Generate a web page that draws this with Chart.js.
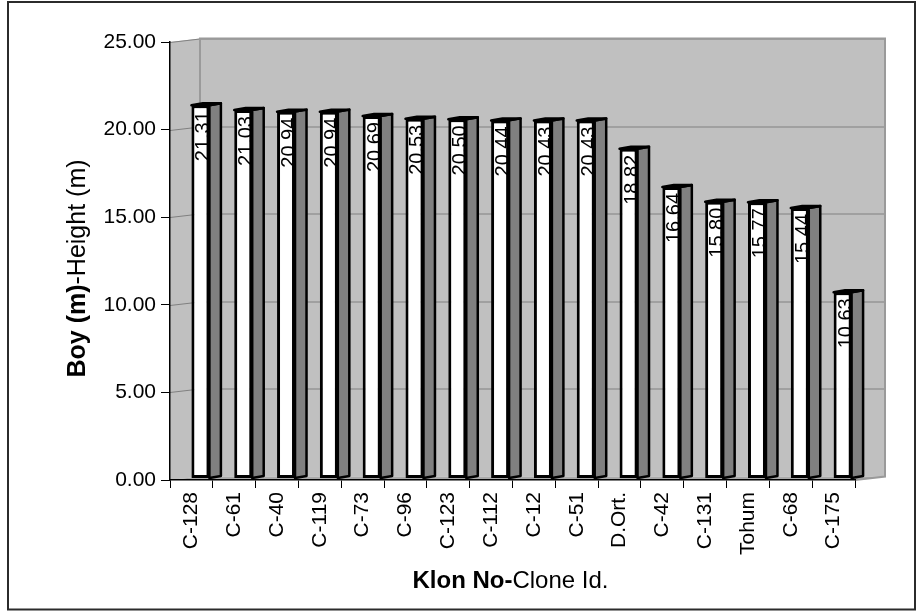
<!DOCTYPE html>
<html>
<head>
<meta charset="utf-8">
<script src="https://cdn.jsdelivr.net/npm/chart.js@4.4.1/dist/chart.umd.min.js"></script>
<style>
  html, body { margin: 0; padding: 0; background: #fff; }
  canvas { display: block; }
</style>
</head>
<body>
<canvas id="c" width="916" height="611"></canvas>
<script>
// Clone ids along the x axis
const categories = ['C-128', 'C-61', 'C-40', 'C-119', 'C-73', 'C-96', 'C-123', 'C-112',
  'C-12', 'C-51', 'D.Ort.', 'C-42', 'C-131', 'Tohum', 'C-68', 'C-175'];
// Mean height per clone (m)
const heights = [21.31, 21.03, 20.94, 20.94, 20.69, 20.53, 20.50, 20.44,
  20.43, 20.43, 18.82, 16.64, 15.80, 15.77, 15.44, 10.63];
// Value axis ticks
const yTicks = [0, 5, 10, 15, 20, 25];

const FONT = "'Liberation Sans', Arial, Helvetica, sans-serif";

// Oblique 3D geometry
const WALL_DX = 30, WALL_DY = -3.5;   // front plane -> back wall
const BAR_DX = 9, BAR_DY = -1.5;      // front plane -> bar front faces
const BAR_DEPTH_X = 11.5, BAR_DEPTH_Y = -2;

function poly(ctx, pts) {
  ctx.beginPath();
  ctx.moveTo(pts[0][0], pts[0][1]);
  for (let i = 1; i < pts.length; i++) ctx.lineTo(pts[i][0], pts[i][1]);
  ctx.closePath();
}

const scene3d = {
  id: 'scene3d',
  beforeDraw(chart) {
    const { ctx, chartArea: a, scales: { y } } = chart;
    ctx.save();
    ctx.fillStyle = '#fff';
    ctx.fillRect(0, 0, chart.width, chart.height);

    // outer frame
    ctx.strokeStyle = '#2b2b2b';
    ctx.lineWidth = 2;
    ctx.strokeRect(8, 2, 907, 607.5);

    const top = y.getPixelForValue(y.max);
    const bot = y.getPixelForValue(y.min);

    // side wall and back wall
    ctx.fillStyle = '#c0c0c0';
    poly(ctx, [[a.left, top], [a.left + WALL_DX, top + WALL_DY],
      [a.left + WALL_DX, bot + WALL_DY], [a.left, bot]]);
    ctx.fill();
    ctx.fillRect(a.left + WALL_DX, top + WALL_DY, a.right - a.left, bot - top);

    // floor
    ctx.fillStyle = '#a9a9a9';
    poly(ctx, [[a.left, bot], [a.right, bot],
      [a.right + WALL_DX, bot + WALL_DY], [a.left + WALL_DX, bot + WALL_DY]]);
    ctx.fill();

    // gridlines across side and back walls
    ctx.strokeStyle = '#808080';
    ctx.lineWidth = 1;
    y.ticks.forEach(t => {
      if (t.value === y.min) return;
      const py = Math.round(y.getPixelForValue(t.value)) + 0.5;
      ctx.beginPath();
      ctx.moveTo(a.left, py);
      ctx.lineTo(a.left + WALL_DX, py + WALL_DY);
      ctx.lineTo(a.right + WALL_DX, py + WALL_DY);
      ctx.stroke();
    });

    // wall edges
    ctx.strokeStyle = '#9a9a9a';
    ctx.lineWidth = 2;
    ctx.beginPath();
    ctx.moveTo(a.left + WALL_DX, bot + WALL_DY);
    ctx.lineTo(a.left + WALL_DX, top + WALL_DY);
    ctx.lineTo(a.right + WALL_DX, top + WALL_DY);
    ctx.lineTo(a.right + WALL_DX, bot + WALL_DY);
    ctx.lineTo(a.right, bot);
    ctx.stroke();
    ctx.restore();
  },
  beforeDatasetDraw(chart, args) {
    const ctx = chart.ctx;
    ctx.save();
    ctx.translate(BAR_DX, BAR_DY);
    ctx.lineWidth = 2.5;
    ctx.strokeStyle = '#000';
    ctx.lineJoin = 'round';
    args.meta.data.forEach(el => {
      const { x, y, base, width } = el.getProps(['x', 'y', 'base', 'width'], true);
      const l = x - width / 2, r = x + width / 2;
      // side face
      ctx.fillStyle = '#808080';
      poly(ctx, [[r, y], [r + BAR_DEPTH_X, y + BAR_DEPTH_Y],
        [r + BAR_DEPTH_X, base + BAR_DEPTH_Y], [r, base]]);
      ctx.fill();
      ctx.stroke();
      // top face
      ctx.fillStyle = '#ffffff';
      poly(ctx, [[l, y], [l + BAR_DEPTH_X, y + BAR_DEPTH_Y],
        [r + BAR_DEPTH_X, y + BAR_DEPTH_Y], [r, y]]);
      ctx.fill();
      ctx.stroke();
    });
  },
  afterDatasetDraw(chart) {
    chart.ctx.restore();
  },
  afterDatasetsDraw(chart) {
    const ctx = chart.ctx;
    const meta = chart.getDatasetMeta(0);
    const data = chart.data.datasets[0].data;
    ctx.save();
    ctx.fillStyle = '#000';
    ctx.font = '20px ' + FONT;
    ctx.textAlign = 'right';
    ctx.textBaseline = 'alphabetic';
    meta.data.forEach((el, i) => {
      const { x, y } = el.getProps(['x', 'y'], true);
      ctx.save();
      ctx.translate(x + BAR_DX + 9, y + BAR_DY + 6);
      ctx.rotate(-Math.PI / 2);
      ctx.fillText(data[i].toFixed(2), 0, 0);
      ctx.restore();
    });
    ctx.restore();
  },
  afterDraw(chart) {
    const ctx = chart.ctx;
    ctx.save();
    ctx.fillStyle = '#000';
    ctx.textBaseline = 'alphabetic';
    ctx.textAlign = 'left';

    // value axis title
    const yBold = 'Boy (m)', yReg = '-Height (m)';
    ctx.font = 'bold 25px ' + FONT;
    const wb = ctx.measureText(yBold).width;
    ctx.font = '25px ' + FONT;
    const wr = ctx.measureText(yReg).width;
    ctx.save();
    ctx.translate(85, 268.5);
    ctx.rotate(-Math.PI / 2);
    const s = -(wb + wr) / 2;
    ctx.font = 'bold 25px ' + FONT;
    ctx.fillText(yBold, s, 0);
    ctx.font = '25px ' + FONT;
    ctx.fillText(yReg, s + wb, 0);
    ctx.restore();

    // category axis title
    const xBold = 'Klon No-', xReg = 'Clone Id.';
    ctx.font = 'bold 24px ' + FONT;
    const xb = ctx.measureText(xBold).width;
    ctx.font = '24px ' + FONT;
    const xr = ctx.measureText(xReg).width;
    const sx = 510.5 - (xb + xr) / 2;
    ctx.font = 'bold 24px ' + FONT;
    ctx.fillText(xBold, sx, 588);
    ctx.font = '24px ' + FONT;
    ctx.fillText(xReg, sx + xb, 588);
    ctx.restore();
  }
};

new Chart(document.getElementById('c'), {
  type: 'bar',
  data: {
    labels: categories,
    datasets: [{
      data: heights,
      backgroundColor: '#ffffff',
      borderColor: '#000000',
      borderWidth: 3,
      borderSkipped: false,
      categoryPercentage: 1,
      barPercentage: 0.42,
      clip: false
    }]
  },
  options: {
    responsive: false,
    animation: false,
    devicePixelRatio: 1,
    layout: { padding: { left: 0, top: 42, right: 61, bottom: 0 } },
    plugins: { legend: { display: false }, tooltip: { enabled: false } },
    scales: {
      x: {
        type: 'category',
        offset: true,
        grid: { display: true, drawOnChartArea: false, drawTicks: true, tickLength: 8, color: '#000', offset: true },
        border: { display: true, color: '#000', width: 1.5 },
        ticks: {
          autoSkip: false, maxRotation: 90, minRotation: 90, padding: 4,
          color: '#000', font: { family: FONT, size: 21 }
        },
        afterFit(scale) { scale.height = 131; }
      },
      y: {
        min: yTicks[0],
        max: yTicks[yTicks.length - 1],
        grid: { display: true, drawOnChartArea: false, drawTicks: true, tickLength: 9, color: '#000' },
        border: { display: true, color: '#000', width: 1.5 },
        ticks: {
          stepSize: yTicks[1] - yTicks[0], padding: 5, color: '#000',
          font: { family: FONT, size: 21 },
          callback: v => Number(v).toFixed(2)
        },
        afterFit(scale) { scale.width = 170; }
      }
    }
  },
  plugins: [scene3d]
});
</script>
</body>
</html>
